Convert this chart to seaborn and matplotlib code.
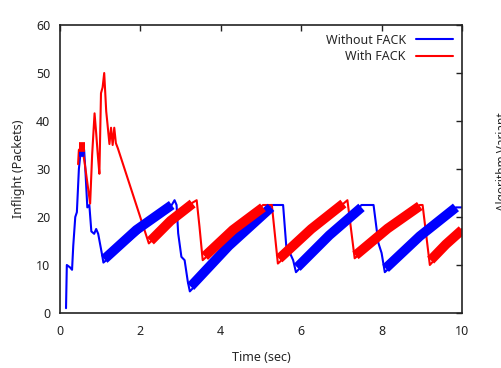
import matplotlib
matplotlib.use("Agg")
import matplotlib.pyplot as plt
import seaborn as sns
import pandas as pd

# Inflight packets over time
# thin path (vertices), ramps are drawn thick on top
blue_t = [0.15, 0.17, 0.25, 0.30, 0.33, 0.38, 0.42, 0.47, 0.52, 0.60, 0.63, 0.68, 0.73, 0.78,
          0.85, 0.90, 0.95, 1.05, 1.08,
          2.78, 2.85, 2.90, 2.94, 3.02, 3.10, 3.18, 3.23,
          5.25, 5.55, 5.63, 5.72, 5.80, 5.87,
          7.50, 7.80, 7.92, 8.00, 8.08,
          9.85, 10.0]
blue_v = [1, 10, 9.5, 9, 14, 20, 21, 30, 34, 34, 30, 22, 22.5, 17,
          16.5, 17.5, 16.5, 12, 10.5,
          22.5, 23.5, 22.5, 16.6, 11.7, 11, 6.5, 4.5,
          22.5, 22.5, 13.8, 12.5, 11, 8.5,
          22.5, 22.5, 14.6, 12.5, 8.5,
          22, 22]

red_t = [0.45, 0.47, 0.55, 0.61, 0.75, 0.80, 0.86, 0.90, 0.94, 0.98, 1.02, 1.06, 1.10,
         1.15, 1.18, 1.23, 1.27, 1.31, 1.35, 1.39, 1.44, 2.21,
         3.30, 3.40, 3.47, 3.55,
         5.05, 5.27, 5.42,
         7.08, 7.15, 7.33,
         8.95, 9.02, 9.20,
         10.0]
red_v = [31, 34, 34.5, 31.5, 22.8, 33, 41.6, 37.5, 33, 29, 45.8, 47, 50,
         42, 39.5, 35.2, 38.6, 35, 38.6, 35.4, 34.3, 14.5,
         23, 23.5, 18, 11,
         22.5, 22.5, 10.3,
         23, 23.5, 11.4,
         22.5, 22.5, 10,
         17.5]

# thick ramps: start, middle, end (time, value)
blue_ramp_t0 = [0.47, 1.10, 3.25, 5.90, 8.10]
blue_ramp_tm = [0.53, 1.90, 4.20, 6.70, 8.95]
blue_ramp_t1 = [0.60, 2.78, 5.25, 7.50, 9.85]
blue_ramp_v0 = [33.5, 11.2, 5.5, 9.5, 9.3]
blue_ramp_vm = [33.5, 17.3, 14.0, 16.2, 16.0]
blue_ramp_v1 = [33.5, 22.5, 22.0, 22.0, 22.0]

red_ramp_t0 = [0.47, 2.25, 3.60, 5.45, 7.35, 9.22]
red_ramp_tm = [0.55, 2.75, 4.30, 6.25, 8.15, 9.60]
red_ramp_t1 = [0.62, 3.30, 5.05, 7.05, 8.95, 10.0]
red_ramp_v0 = [34.5, 15.0, 11.8, 11.3, 12.0, 11.0]
red_ramp_vm = [34.5, 19.2, 17.3, 17.5, 17.6, 14.3]
red_ramp_v1 = [34.5, 22.8, 22.0, 22.8, 22.3, 17.3]

sns.set_style("white")
plt.rcParams['font.family'] = ['Noto Sans', 'DejaVu Sans']

fig = plt.figure(figsize=(5.02, 3.68), dpi=100)
ax = fig.add_axes([0.1195, 0.1495, 0.8008, 0.7825])

blue = '#0000ff'
red = '#ff0000'

df_blue = pd.DataFrame({'t': blue_t, 'v': blue_v})
df_red = pd.DataFrame({'t': red_t, 'v': red_v})

sns.lineplot(data=df_blue, x='t', y='v', sort=False, estimator=None, color=blue,
             lw=1.5, ax=ax, label='Without FACK')
sns.lineplot(data=df_red, x='t', y='v', sort=False, estimator=None, color=red,
             lw=1.5, ax=ax, label='With FACK')

ramps = [
    (blue, blue_ramp_t0, blue_ramp_tm, blue_ramp_t1, blue_ramp_v0, blue_ramp_vm, blue_ramp_v1),
    (red, red_ramp_t0, red_ramp_tm, red_ramp_t1, red_ramp_v0, red_ramp_vm, red_ramp_v1),
]
for col, t0s, tms, t1s, v0s, vms, v1s in ramps:
    for t0, tm, t1, v0, vm, v1 in zip(t0s, tms, t1s, v0s, vms, v1s):
        ax.plot([t0, tm, t1], [v0, vm, v1], color=col, lw=7, solid_capstyle='butt',
                solid_joinstyle='miter')

ax.set_xlim(0, 10)
ax.set_ylim(0, 60)
ax.set_xticks(range(0, 11, 2))
ax.set_yticks(range(0, 61, 10))
ax.tick_params(direction='in', length=4, width=1, top=True, right=True,
               labelsize=9, colors='#222222', pad=7)
ax.tick_params(axis='x', pad=9)
for s in ax.spines.values():
    s.set_linewidth(1.2)
    s.set_color('#222222')

ax.set_xlabel('Time (sec)', fontsize=9, labelpad=9)
ax.set_ylabel('Inflight (Packets)', fontsize=9, labelpad=8)

leg = ax.legend(loc='upper right', frameon=False, markerfirst=False, fontsize=9,
                handlelength=3.0, labelspacing=0.25, borderaxespad=0.3)
fig.text(496 / 502, 1 - 162 / 368, 'Algorithm Variant', rotation=90,
         ha='left', va='center', fontsize=8.5)

fig.savefig('out.png', dpi=100)
